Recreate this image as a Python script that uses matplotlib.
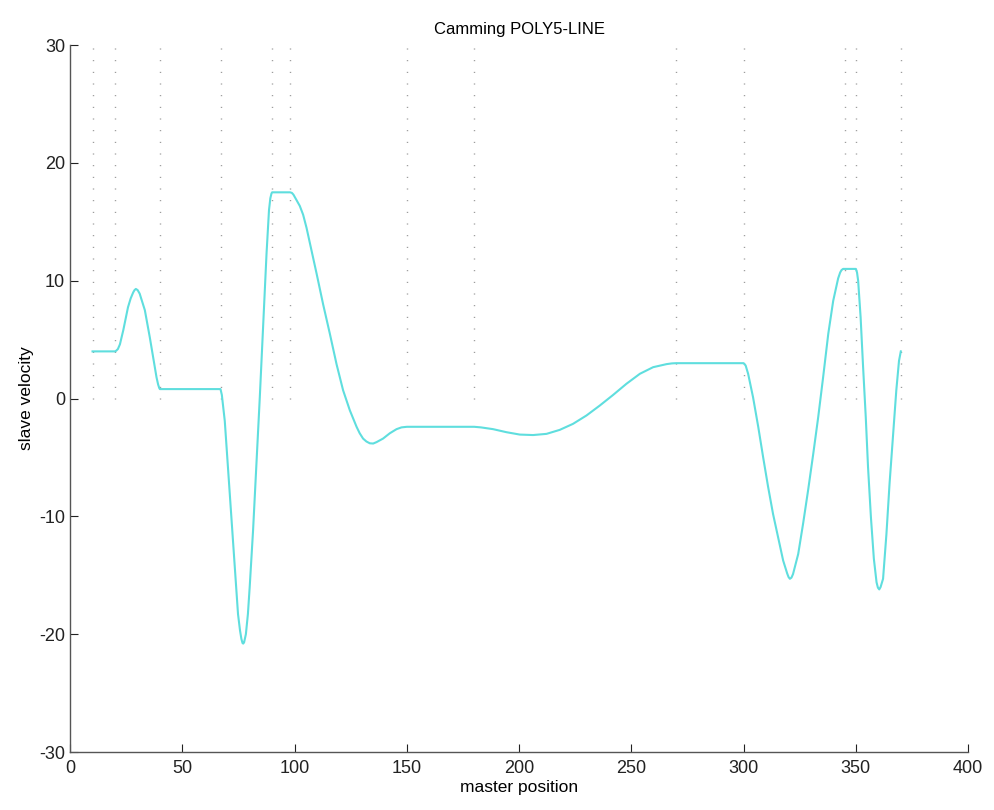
import matplotlib
matplotlib.use("Agg")
from matplotlib import pyplot as plt
import numpy as np

plt.rcParams['font.family'] = ['Liberation Sans', 'DejaVu Sans']
plt.rcParams['axes.unicode_minus'] = False

# Segment boundaries of the cam (master positions)
breaks = [10, 20, 40, 67, 90, 98, 150, 180, 270, 300, 345, 350, 370]

# Slave velocity profile, sampled along the master axis
master = [10, 20, 20.5, 21.3, 22.2, 23.7, 25.8, 27.0, 28.1, 28.7, 29.3, 30.1, 31.0, 33.3,
          35.5, 37.0, 38.5, 39.2, 39.7, 40,
          67, 67.6, 68.9, 70.4, 71.9, 73.4, 74.8, 75.7, 76.3, 76.8, 77.1, 77.5, 78.3, 79.2,
          80.0, 81.5, 83.0, 84.5, 86.1, 87.5, 88.6, 89.2, 89.7, 90,
          98, 98.8, 99.5, 100.8, 102.3, 103.8, 105.3, 106.8, 109.8, 112.7, 115.7, 118.7,
          121.6, 124.6, 127.6, 129.0, 130.5, 132.0, 133.5, 135.0, 136.5, 138.0, 139.4,
          142.4, 145.4, 147.6, 150,
          180, 183, 188.4, 194.4, 200.3, 206.2, 212.2, 218.1, 224.0, 230.0, 235.9, 241.9,
          247.8, 253.8, 259.7, 265.7, 268.0, 270,
          300, 300.9, 302.0, 304.2, 306.5, 308.7, 310.9, 313.1, 315.4, 317.6, 319.4, 320.0,
          320.6, 321.3, 322.0, 324.3, 326.5, 328.7, 331.0, 333.2, 335.4, 337.7, 339.9, 342.1,
          343.0, 343.6, 344.3, 345,
          350, 350.5, 351.0, 352.1, 353.2, 354.4, 355.4, 356.7, 358.0, 359.2, 359.8, 360.4,
          361.0, 362.1, 363.6, 365.0, 366.5, 368.0, 369.2, 370]
velocity = [4.0, 4.0, 4.05, 4.2, 4.6, 5.8, 7.75, 8.5, 9.0, 9.2, 9.3, 9.2, 8.9, 7.5,
            5.2, 3.5, 1.8, 1.2, 0.9, 0.8,
            0.8, 0.3, -1.9, -6.1, -10.4, -14.6, -18.3, -19.7, -20.4, -20.75, -20.8, -20.7, -20.0, -18.3,
            -16.0, -11.2, -5.5, 0.1, 6.6, 12.3, 16.0, 17.0, 17.4, 17.5,
            17.5, 17.45, 17.3, 16.85, 16.35, 15.6, 14.5, 13.2, 10.6, 8.0, 5.5, 2.9,
            0.7, -1.0, -2.4, -2.95, -3.4, -3.65, -3.8, -3.82, -3.7, -3.55, -3.4,
            -2.95, -2.6, -2.45, -2.4,
            -2.4, -2.45, -2.6, -2.86, -3.06, -3.1, -3.0, -2.66, -2.15, -1.44, -0.6, 0.31,
            1.25, 2.1, 2.66, 2.92, 2.98, 3.0,
            3.0, 2.8, 2.1, 0.1, -2.4, -5.0, -7.5, -9.8, -11.8, -13.75, -14.85, -15.15,
            -15.3, -15.2, -14.9, -13.2, -10.6, -7.8, -4.7, -1.6, 1.8, 5.5, 8.3, 10.2,
            10.7, 10.9, 11.0, 11.0,
            11.0, 10.7, 10.0, 6.9, 2.7, -1.6, -5.8, -10.1, -13.6, -15.6, -16.05, -16.2,
            -16.0, -15.3, -11.5, -7.2, -3.3, 0.7, 3.2, 4.0]

x_ticks = [0, 50, 100, 150, 200, 250, 300, 350, 400]
y_ticks = [-30, -20, -10, 0, 10, 20, 30]

fig = plt.figure(figsize=(9.94, 8.10), dpi=100)
ax = fig.add_axes([0.0705, 0.0716, 0.9035, 0.8728])

for b in breaks:
    ax.plot([b, b], [0, 30], color='#8a8a8a', lw=1.0, linestyle=(0, (0.7, 7.7)))

ax.plot(master, velocity, color='#5fdede', lw=1.5)

ax.set_xlim(0, 400)
ax.set_ylim(-30, 30)
ax.set_xticks(x_ticks)
ax.set_yticks(y_ticks)
ax.tick_params(direction='in', length=6, width=0.8, colors='#222222', labelsize=13)
ax.tick_params(axis='x', pad=6)
for side in ['top', 'right']:
    ax.spines[side].set_visible(False)
for side in ['left', 'bottom']:
    ax.spines[side].set_color('#555555')
    ax.spines[side].set_linewidth(1.0)

ax.set_title("Camming POLY5-LINE", fontsize=12, pad=8)
ax.set_xlabel("master position", fontsize=12.5, labelpad=2)
ax.set_ylabel("slave velocity", fontsize=12.5, labelpad=4)

fig.savefig("out.png", dpi=100)
